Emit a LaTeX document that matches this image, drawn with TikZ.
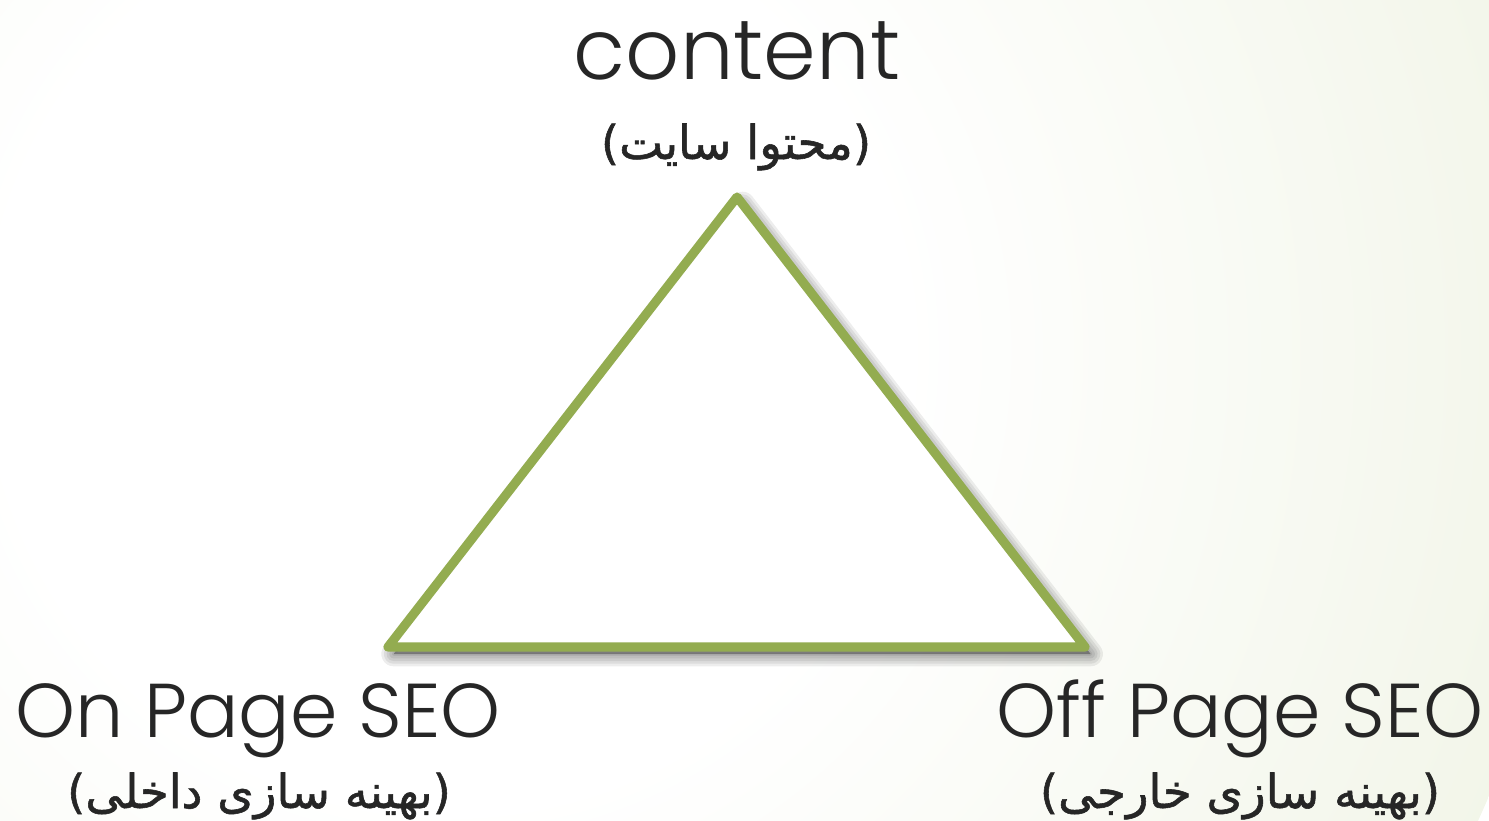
\documentclass[tikz,border=0pt]{standalone}
\usepackage{fontspec}
\setmainfont{Poppins}[UprightFont=* Light]
\newfontfamily\farsi[Script=Arabic, FakeBold=1.2]{DejaVu Sans}
\TeXXeTstate=1
\usetikzlibrary{positioning}
\definecolor{trigreen}{RGB}{147,172,80}
\definecolor{bgedge}{RGB}{221,230,197}
\definecolor{inkgray}{RGB}{38,38,38}
\pgfdeclareradialshading{bgshade}{\pgfpoint{0bp}{0bp}}{color(0bp)=(white); color(10bp)=(white); color(50bp)=(bgedge)}

\begin{document}
\begin{tikzpicture}[
  title/.style={font=\fontsize{24.1}{26}\selectfont, text=inkgray, inner sep=0pt, anchor=base},
  corner/.style={font=\fontsize{21.7}{24}\selectfont, text=inkgray, inner sep=0pt, anchor=base},
  sub/.style={font=\farsi\fontsize{13.3}{16}\selectfont, text=inkgray, inner sep=0pt},
  side/.style={draw=trigreen, line width=2.6pt, line join=round}]
  \useasboundingbox (0,0) rectangle (14.89,8.21);
  \clip (0,0) rectangle (14.89,8.21);
  % background
  \shade[shading=bgshade] (4.5,4.7) circle (11.3);

  \coordinate (top)   at (7.37,6.24);
  \coordinate (left)  at (3.88,1.74);
  \coordinate (right) at (10.85,1.74);

  % soft shadow
  \foreach \w in {1,2.5,4,5.5,7}
    \draw[black, fill=black, opacity=0.07, line width=\w pt, line join=round,
          transform canvas={xshift=1.6pt,yshift=-2pt}] (top) -- (left) -- (right) -- cycle;
  \draw[side, fill=white] (top) -- (left) -- (right) -- cycle;

  \node[title]  (content) at (7.37,7.41)  {content};
  \node[sub]    (contentfa) at (7.36,6.74) {\beginR(محتوا سایت)\endR};
  \node[corner] (onpage)  at (2.58,0.83)  {On Page SEO};
  \node[sub]    (onpagefa) at (2.59,0.25) {\beginR(بهینه سازی داخلی)\endR};
  \node[corner] (offpage) at (12.40,0.83) {Off Page SEO};
  \node[sub]    (offpagefa) at (12.40,0.25) {\beginR(بهینه سازی خارجی)\endR};
\end{tikzpicture}
\end{document}
